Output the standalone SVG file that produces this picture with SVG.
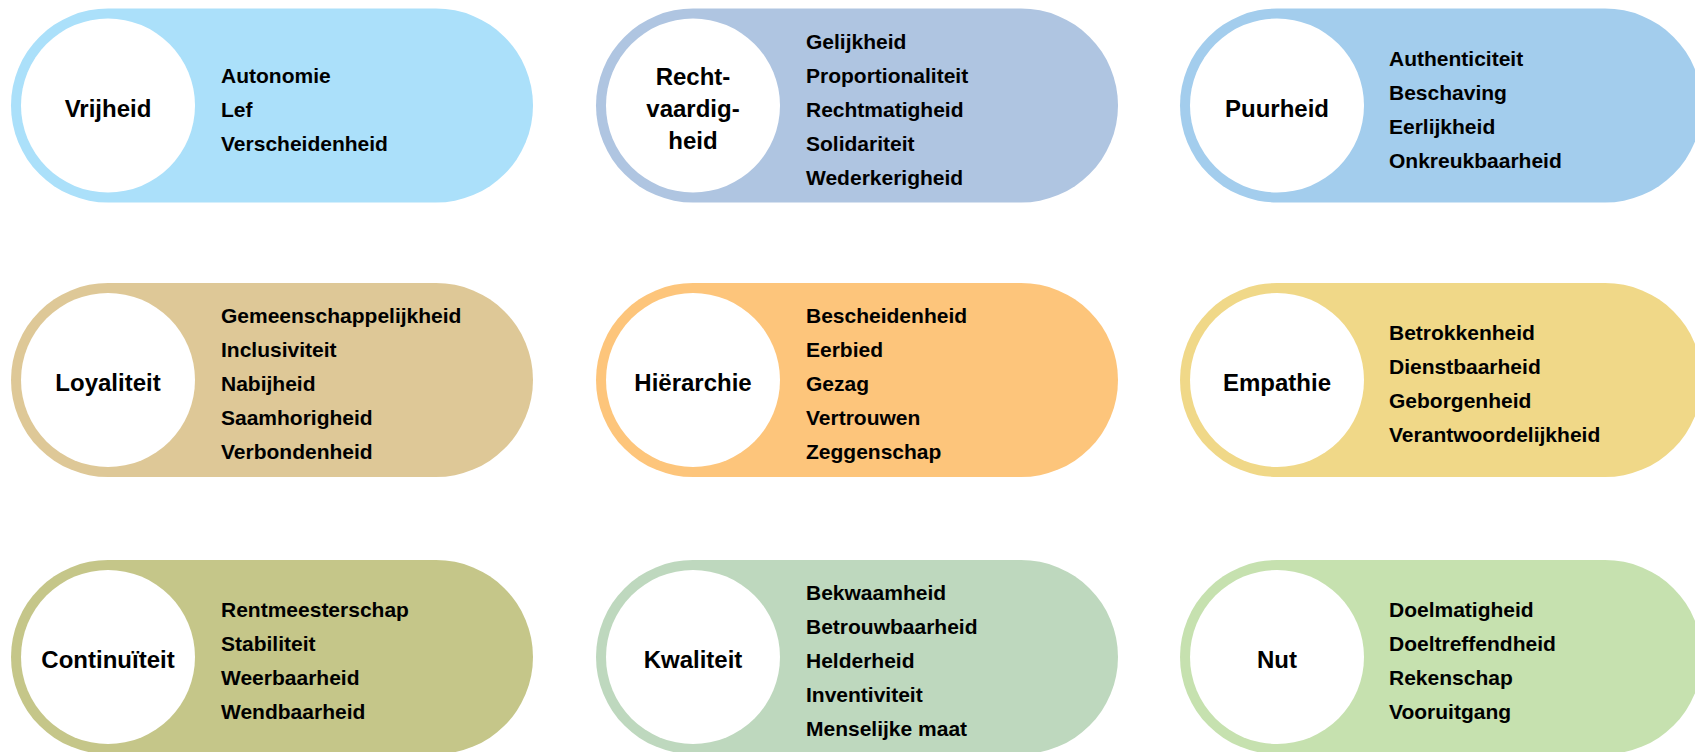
<svg xmlns="http://www.w3.org/2000/svg" width="1695" height="752" viewBox="0 0 1695 752">
<style>
  .pill { stroke: none; }
  .hole { fill: #ffffff; }
  .lbl { font-family: "Liberation Sans", Arial, sans-serif; font-weight: bold; font-size: 24px; fill: #000; text-anchor: middle; }
  .lst { font-family: "Liberation Sans", Arial, sans-serif; font-weight: bold; font-size: 21px; fill: #000; }
</style>
<rect width="1695" height="752" fill="#ffffff"/>

<g id="vrijheid">
  <rect class="pill" x="11" y="8.5" width="522" height="194" rx="97" fill="#ABE0FA"/>
  <circle class="hole" cx="108" cy="105.5" r="87"/>
  <text class="lbl" x="108" y="116.5">Vrijheid</text>
  <text class="lst" x="221" y="82.5">Autonomie</text>
  <text class="lst" x="221" y="116.5">Lef</text>
  <text class="lst" x="221" y="150.5">Verscheidenheid</text>
</g>

<g id="rechtvaardigheid">
  <rect class="pill" x="596" y="8.5" width="522" height="194" rx="97" fill="#AFC5E1"/>
  <circle class="hole" cx="693" cy="105.5" r="87"/>
  <text class="lbl" x="693" y="84.5">Recht-</text>
  <text class="lbl" x="693" y="116.5">vaardig-</text>
  <text class="lbl" x="693" y="148.5">heid</text>
  <text class="lst" x="806" y="48.5">Gelijkheid</text>
  <text class="lst" x="806" y="82.5">Proportionaliteit</text>
  <text class="lst" x="806" y="116.5">Rechtmatigheid</text>
  <text class="lst" x="806" y="150.5">Solidariteit</text>
  <text class="lst" x="806" y="184.5">Wederkerigheid</text>
</g>

<g id="puurheid">
  <rect class="pill" x="1180" y="8.5" width="522" height="194" rx="97" fill="#A3CDED"/>
  <circle class="hole" cx="1277" cy="105.5" r="87"/>
  <text class="lbl" x="1277" y="116.5">Puurheid</text>
  <text class="lst" x="1389" y="65.5">Authenticiteit</text>
  <text class="lst" x="1389" y="99.5">Beschaving</text>
  <text class="lst" x="1389" y="133.5">Eerlijkheid</text>
  <text class="lst" x="1389" y="167.5">Onkreukbaarheid</text>
</g>

<g id="loyaliteit">
  <rect class="pill" x="11" y="283" width="522" height="194" rx="97" fill="#DEC897"/>
  <circle class="hole" cx="108" cy="380" r="87"/>
  <text class="lbl" x="108" y="391">Loyaliteit</text>
  <text class="lst" x="221" y="323">Gemeenschappelijkheid</text>
  <text class="lst" x="221" y="357">Inclusiviteit</text>
  <text class="lst" x="221" y="391">Nabijheid</text>
  <text class="lst" x="221" y="425">Saamhorigheid</text>
  <text class="lst" x="221" y="459">Verbondenheid</text>
</g>

<g id="hierarchie">
  <rect class="pill" x="596" y="283" width="522" height="194" rx="97" fill="#FDC57B"/>
  <circle class="hole" cx="693" cy="380" r="87"/>
  <text class="lbl" x="693" y="391">Hiërarchie</text>
  <text class="lst" x="806" y="323">Bescheidenheid</text>
  <text class="lst" x="806" y="357">Eerbied</text>
  <text class="lst" x="806" y="391">Gezag</text>
  <text class="lst" x="806" y="425">Vertrouwen</text>
  <text class="lst" x="806" y="459">Zeggenschap</text>
</g>

<g id="empathie">
  <rect class="pill" x="1180" y="283" width="522" height="194" rx="97" fill="#F0D888"/>
  <circle class="hole" cx="1277" cy="380" r="87"/>
  <text class="lbl" x="1277" y="391">Empathie</text>
  <text class="lst" x="1389" y="340">Betrokkenheid</text>
  <text class="lst" x="1389" y="374">Dienstbaarheid</text>
  <text class="lst" x="1389" y="408">Geborgenheid</text>
  <text class="lst" x="1389" y="442">Verantwoordelijkheid</text>
</g>

<g id="continuiteit">
  <rect class="pill" x="11" y="560" width="522" height="194" rx="97" fill="#C5C689"/>
  <circle class="hole" cx="108" cy="657" r="87"/>
  <text class="lbl" x="108" y="668">Continuïteit</text>
  <text class="lst" x="221" y="617">Rentmeesterschap</text>
  <text class="lst" x="221" y="651">Stabiliteit</text>
  <text class="lst" x="221" y="685">Weerbaarheid</text>
  <text class="lst" x="221" y="719">Wendbaarheid</text>
</g>

<g id="kwaliteit">
  <rect class="pill" x="596" y="560" width="522" height="194" rx="97" fill="#BED8BE"/>
  <circle class="hole" cx="693" cy="657" r="87"/>
  <text class="lbl" x="693" y="668">Kwaliteit</text>
  <text class="lst" x="806" y="600">Bekwaamheid</text>
  <text class="lst" x="806" y="634">Betrouwbaarheid</text>
  <text class="lst" x="806" y="668">Helderheid</text>
  <text class="lst" x="806" y="702">Inventiviteit</text>
  <text class="lst" x="806" y="736">Menselijke maat</text>
</g>

<g id="nut">
  <rect class="pill" x="1180" y="560" width="522" height="194" rx="97" fill="#C6E1AF"/>
  <circle class="hole" cx="1277" cy="657" r="87"/>
  <text class="lbl" x="1277" y="668">Nut</text>
  <text class="lst" x="1389" y="617">Doelmatigheid</text>
  <text class="lst" x="1389" y="651">Doeltreffendheid</text>
  <text class="lst" x="1389" y="685">Rekenschap</text>
  <text class="lst" x="1389" y="719">Vooruitgang</text>
</g>

<g id="connectors"/>
</svg>
